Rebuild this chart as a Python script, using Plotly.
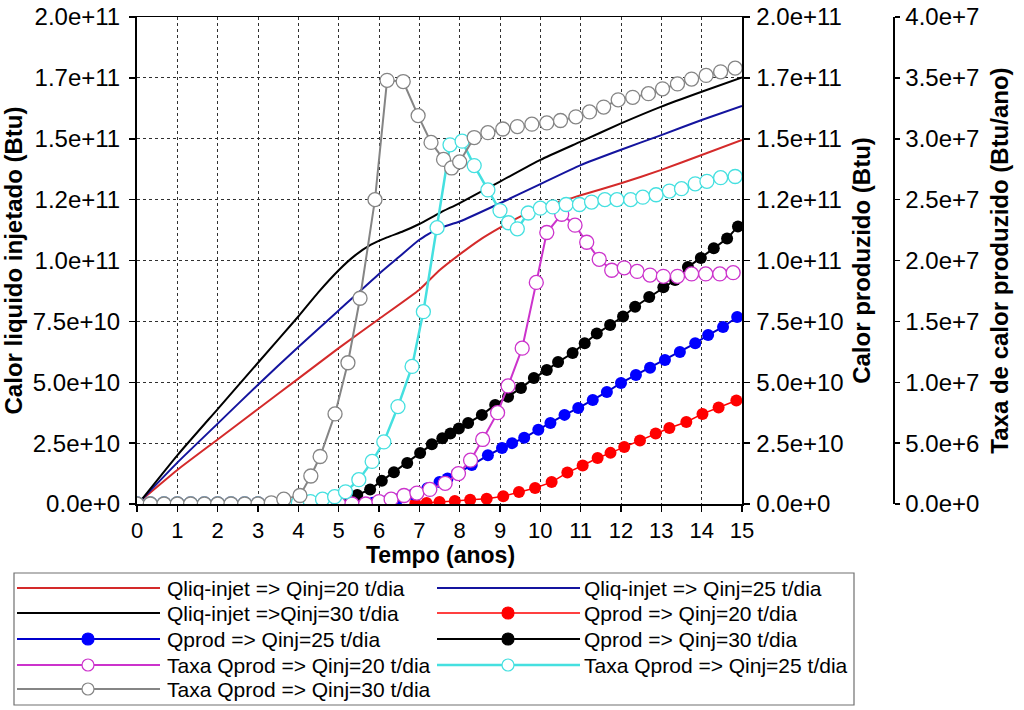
import plotly.graph_objects as go

# ---------------- data ----------------
# Calor liquido injetado (units of 1e10 Btu)
t_liq20 = [0.1, 1, 2, 3, 4, 5, 6, 7, 7.5, 8, 8.5, 9, 9.5, 10, 10.66, 11, 12, 13, 14, 15]
liq20 = [0.15, 1.4, 2.65, 3.9, 5.15, 6.4, 7.6, 8.8, 9.6, 10.25, 10.85, 11.35, 11.8, 12.2, 12.5, 12.68, 13.17, 13.72, 14.33, 14.95]
t_liq25 = [0.1, 1, 2, 3, 4, 5, 6, 6.5, 7, 7.45, 8, 9, 10, 11, 12, 13, 14, 15]
liq25 = [0.15, 1.7, 3.3, 4.9, 6.45, 7.95, 9.45, 10.15, 10.85, 11.3, 11.6, 12.35, 13.14, 13.92, 14.55, 15.15, 15.77, 16.35]
t_liq30 = [0.1, 1, 2, 3, 4, 4.5, 5, 5.4, 5.8, 6.2, 6.6, 7.0, 7.5, 8, 9, 10, 11, 12, 13, 14, 15]
liq30 = [0.15, 2.0, 3.9, 5.8, 7.7, 8.7, 9.6, 10.2, 10.65, 10.95, 11.2, 11.5, 11.95, 12.36, 13.24, 14.13, 14.88, 15.63, 16.32, 16.93, 17.52]

# Calor produzido (units of 1e10 Btu)
t_prod20 = [6.9, 7.18, 7.5, 7.88, 8.26, 8.67, 9.08, 9.47, 9.87, 10.28, 10.67, 11.05, 11.42, 11.74, 12.08,
            12.47, 12.86, 13.2, 13.62, 14.02, 14.42, 14.86]
prod20 = [0.02, 0.04, 0.08, 0.12, 0.17, 0.22, 0.32, 0.49, 0.66, 0.9, 1.29, 1.58, 1.89, 2.1, 2.34,
          2.61, 2.9, 3.12, 3.37, 3.7, 3.96, 4.25]
t_prod25 = [5.5, 5.85, 6.15, 6.47, 6.85, 7.2, 7.5, 7.7, 7.93, 8.3, 8.7, 9.05, 9.3, 9.6, 9.95, 10.25, 10.6,
            10.94, 11.3, 11.65, 12.0, 12.37, 12.72, 13.09, 13.46, 13.84, 14.16, 14.53, 14.88]
prod25 = [0.02, 0.05, 0.1, 0.2, 0.4, 0.65, 0.9, 1.05, 1.25, 1.6, 2.0, 2.3, 2.5, 2.72, 3.05, 3.33, 3.66,
          3.94, 4.27, 4.6, 4.97, 5.3, 5.6, 5.91, 6.24, 6.6, 6.94, 7.27, 7.68]
t_prod30 = [5.2, 5.46, 5.78, 6.07, 6.37, 6.7, 7.02, 7.31, 7.57, 7.77, 7.98, 8.21, 8.55, 8.88, 9.2, 9.52,
            9.84, 10.16, 10.44, 10.8, 11.1, 11.4, 11.73, 12.05, 12.35, 12.7, 13.05, 13.34, 13.66, 13.98,
            14.3, 14.63, 14.9]
prod30 = [0.1, 0.37, 0.6, 0.95, 1.3, 1.68, 2.09, 2.45, 2.7, 2.9, 3.1, 3.33, 3.66, 4.07, 4.4, 4.76,
          5.17, 5.5, 5.83, 6.2, 6.6, 7.0, 7.35, 7.7, 8.1, 8.5, 8.9, 9.2, 9.73, 10.1,
          10.5, 10.9, 11.4]

# Taxa de calor produzido (units of 1e7 Btu/ano)
t_taxa20 = [0, 0.33, 0.67, 1.0, 1.33, 1.67, 2.0, 2.33, 2.67, 3.0, 3.33, 3.67, 4.0, 4.33, 4.67, 5.0, 5.33,
            5.67, 6.0, 6.3, 6.62, 6.94, 7.26, 7.64, 7.97, 8.27, 8.57, 8.94, 9.2, 9.55, 9.9, 10.16, 10.53,
            10.86, 11.15, 11.46, 11.77, 12.08, 12.4, 12.72, 13.05, 13.4, 13.75, 14.1, 14.45, 14.78]
taxa20 = [0, 0, 0, 0, 0, 0, 0, 0, 0, 0, 0, 0, 0, 0, 0, 0, 0,
          0, 0.02, 0.04, 0.07, 0.09, 0.12, 0.17, 0.25, 0.36, 0.53, 0.75, 0.97, 1.28, 1.82, 2.23, 2.38,
          2.29, 2.15, 2.01, 1.92, 1.94, 1.91, 1.88, 1.87, 1.87, 1.89, 1.89, 1.89, 1.9]
t_taxa25 = [0, 0.33, 0.67, 1.0, 1.33, 1.67, 2.0, 2.33, 2.67, 3.0, 3.33, 3.67, 4.0, 4.3, 4.6, 4.9, 5.17,
            5.5, 5.83, 6.12, 6.47, 6.82, 7.1, 7.44, 7.76, 8.06, 8.36, 8.7, 9.0, 9.21, 9.43, 9.7, 10.0,
            10.31, 10.64, 10.97, 11.27, 11.6, 11.9, 12.24, 12.54, 12.87, 13.2, 13.5, 13.84, 14.13, 14.47, 14.83]
taxa25 = [0, 0, 0, 0, 0, 0, 0, 0, 0, 0, 0, 0, 0.01, 0.02, 0.04, 0.06, 0.1,
          0.2, 0.35, 0.51, 0.8, 1.13, 1.58, 2.27, 2.95, 2.98, 2.78, 2.58, 2.41, 2.31, 2.26, 2.39, 2.43,
          2.44, 2.46, 2.46, 2.48, 2.5, 2.5, 2.5, 2.52, 2.54, 2.57, 2.59, 2.63, 2.65, 2.68, 2.69]
t_taxa30 = [0, 0.33, 0.67, 1.0, 1.33, 1.67, 2.0, 2.33, 2.67, 3.0, 3.33, 3.64, 4.04, 4.31, 4.54, 4.91, 5.23,
            5.53, 5.9, 6.2, 6.6, 6.97, 7.29, 7.6, 7.8, 8.0, 8.36, 8.7, 9.07, 9.43, 9.79, 10.16, 10.5,
            10.88, 11.22, 11.57, 11.93, 12.29, 12.68, 13.03, 13.4, 13.75, 14.11, 14.47, 14.83]
taxa30 = [0, 0, 0, 0, 0, 0, 0, 0, 0, 0, 0.01, 0.04, 0.07, 0.23, 0.39, 0.74, 1.16,
          1.69, 2.5, 3.48, 3.47, 3.19, 2.97, 2.83, 2.76, 2.81, 3.01, 3.05, 3.08, 3.1, 3.12, 3.13, 3.15,
          3.18, 3.22, 3.26, 3.32, 3.34, 3.37, 3.41, 3.45, 3.49, 3.52, 3.55, 3.58]

x_ticks = list(range(0, 16))
y_tickvals = [0, 2.5e10, 5.0e10, 7.5e10, 1.0e11, 1.25e11, 1.5e11, 1.75e11, 2.0e11]
y_ticktext = ["0.0e+0", "2.5e+10", "5.0e+10", "7.5e+10", "1.0e+11", "1.2e+11", "1.5e+11", "1.7e+11", "2.0e+11"]
y3_tickvals = [0, 5e6, 1e7, 1.5e7, 2e7, 2.5e7, 3e7, 3.5e7, 4e7]
y3_ticktext = ["0.0e+0", "5.0e+6", "1.0e+7", "1.5e+7", "2.0e+7", "2.5e+7", "3.0e+7", "3.5e+7", "4.0e+7"]

names = ["Qliq-injet => Qinj=20 t/dia", "Qliq-injet => Qinj=25 t/dia", "Qliq-injet =>Qinj=30 t/dia",
         "Qprod => Qinj=20 t/dia", "Qprod => Qinj=25 t/dia", "Qprod => Qinj=30 t/dia",
         "Taxa Qprod => Qinj=20 t/dia", "Taxa Qprod => Qinj=25 t/dia", "Taxa Qprod => Qinj=30 t/dia"]

E10 = 1e10
E7 = 1e7

# ---------------- styles ----------------
FONT = "Liberation Sans, Arial, sans-serif"
C_RED_L = "#d42a2a"
C_BLUE_L = "#14149e"
C_BLACK = "#000000"
C_RED_M = "#ff0000"
C_BLUE_M = "#0000ff"
C_MAG = "#cc33cc"
C_CYAN = "#45e0e0"
C_GRAY = "#858585"

fig = go.Figure()

# Injected heat (left axis)
for t, v, name, col in [(t_liq20, liq20, names[0], C_RED_L),
                        (t_liq25, liq25, names[1], C_BLUE_L),
                        (t_liq30, liq30, names[2], C_BLACK)]:
    fig.add_trace(go.Scatter(x=t, y=[a * E10 for a in v], name=name, mode="lines",
                             line=dict(color=col, width=2, shape="spline", smoothing=0.5),
                             yaxis="y", showlegend=False))

# Produced heat (right axis 1)
for t, v, name, lc, mc, lw in [(t_prod20, prod20, names[3], C_RED_M, C_RED_M, 1.5),
                               (t_prod25, prod25, names[4], "#0000cc", C_BLUE_M, 2),
                               (t_prod30, prod30, names[5], C_BLACK, C_BLACK, 2)]:
    fig.add_trace(go.Scatter(x=t, y=[a * E10 for a in v], name=name, mode="lines+markers",
                             line=dict(color=lc, width=lw),
                             marker=dict(symbol="circle", size=12, color=mc, line=dict(width=0)),
                             yaxis="y2", showlegend=False))

# Produced heat rate (right axis 2)
for t, v, name, col, lw in [(t_taxa20, taxa20, names[6], C_MAG, 2),
                            (t_taxa25, taxa25, names[7], C_CYAN, 2.5),
                            (t_taxa30, taxa30, names[8], C_GRAY, 2)]:
    fig.add_trace(go.Scatter(x=t, y=[a * E7 for a in v], name=name, mode="lines+markers",
                             line=dict(color=col, width=lw),
                             marker=dict(symbol="circle", size=14, color="white",
                                         line=dict(color=col, width=1.3)),
                             yaxis="y3", showlegend=False))

# ---------------- layout ----------------
# page geometry (body margin removed by post_script, so figure px == page px)
PAGE_L, PAGE_T, PAGE_B, PAGE_XEND, PAGE_Y3 = 137, 17, 504, 742, 893
FW, FH = 1024, 710
L = PAGE_L
T = PAGE_T
B = FH - PAGE_B
R = FW - PAGE_Y3
PW = FW - L - R
PH = FH - T - B
x_end = (PAGE_XEND - PAGE_L) / PW

tickfont = dict(family=FONT, size=24, color="black")
xtickfont = dict(family=FONT, size=22, color="black")
titlefont = dict(family=FONT, size=24, color="black")

fig.update_layout(
    width=FW, height=FH,
    margin=dict(l=L, r=R, t=T, b=B, autoexpand=False),
    paper_bgcolor="white", plot_bgcolor="white",
    showlegend=False,
    font=dict(family=FONT, color="black"),
    xaxis=dict(domain=[0, x_end], range=[0, 15], tickvals=x_ticks, ticks="outside", ticklen=6,
               tickwidth=1.5, tickcolor="black", showline=True, linecolor="black", linewidth=1.5,
               mirror=True, showgrid=True, gridcolor="#303030", griddash="dot", gridwidth=1,
               zeroline=False, tickfont=xtickfont, ticklabelstandoff=0, ticklabeloverflow="allow"),
    yaxis=dict(range=[0, 2.0e11], tickvals=y_tickvals, ticktext=y_ticktext, ticks="outside",
               ticklen=6, tickwidth=1.5, tickcolor="black", showline=True, linecolor="black",
               linewidth=2, showgrid=True, gridcolor="#303030", griddash="dot", gridwidth=1,
               zeroline=False, tickfont=tickfont, ticklabelstandoff=4, ticklabeloverflow="allow",
               title=dict(text="<b>Calor liquido injetado (Btu)</b>", font=titlefont, standoff=5)),
    yaxis2=dict(range=[0, 2.0e11], tickvals=y_tickvals, ticktext=y_ticktext, overlaying="y",
                side="right", anchor="x", ticks="outside", ticklen=6, tickwidth=1.5,
                tickcolor="black", showline=True, linecolor="black", linewidth=1.5,
                showgrid=False, zeroline=False, tickfont=tickfont, ticklabelstandoff=2,
                ticklabeloverflow="allow",
                title=dict(text="<b>Calor produzido (Btu)</b>", font=titlefont, standoff=10)),
    yaxis3=dict(range=[0, 4.0e7], tickvals=y3_tickvals, ticktext=y3_ticktext, overlaying="y",
                side="right", anchor="free", position=1.0, ticks="outside", ticklen=5,
                tickwidth=1.5, tickcolor="black", showline=True, linecolor="black", linewidth=1.5,
                showgrid=False, zeroline=False, tickfont=tickfont, ticklabelstandoff=1,
                ticklabeloverflow="allow",
                title=dict(text="<b>Taxa de calor produzido (Btu/ano)</b>", font=titlefont, standoff=13)),
)


# ---------------- custom legend box & x title (paper coordinates from page px) ----------------
def px(xp):
    return (xp - PAGE_L) / PW


def py(yp):
    return (PAGE_B - yp) / PH


shapes = []
annotations = []
annotations.append(dict(xref="paper", yref="paper", x=px(440), y=py(555), xanchor="center", yanchor="middle",
                        text="<b>Tempo (anos)</b>", showarrow=False,
                        font=dict(family=FONT, size=23, color="black")))

shapes.append(dict(type="rect", xref="paper", yref="paper", x0=px(14), x1=px(854), y0=py(573), y1=py(705),
                   line=dict(color="#707070", width=1.2), fillcolor="white", layer="above"))

row_y = [588, 613, 639, 665, 689]
col_line = [(17, 160, 88, 165), (437, 580, 508, 582)]
legend_spec = [
    (names[0], C_RED_L, 2, None, None),
    (names[1], C_BLUE_L, 2, None, None),
    (names[2], C_BLACK, 2, None, None),
    (names[3], C_RED_M, 1.5, C_RED_M, C_RED_M),
    (names[4], "#0000cc", 2, C_BLUE_M, C_BLUE_M),
    (names[5], C_BLACK, 2, C_BLACK, C_BLACK),
    (names[6], C_MAG, 2, "white", C_MAG),
    (names[7], C_CYAN, 2.5, "white", C_CYAN),
    (names[8], C_GRAY, 2, "white", C_GRAY),
]
for i, (name, lc, lw, mfill, mline) in enumerate(legend_spec):
    r, c = divmod(i, 2)
    x0, x1, xm, xt = col_line[c]
    yy = py(row_y[r])
    shapes.append(dict(type="line", xref="paper", yref="paper", x0=px(x0), x1=px(x1), y0=yy, y1=yy,
                       line=dict(color=lc, width=lw), layer="above"))
    if mfill is not None:
        shapes.append(dict(type="circle", xref="paper", yref="paper", xsizemode="pixel",
                           ysizemode="pixel", xanchor=px(xm), yanchor=yy, x0=-6, x1=6, y0=-6, y1=6,
                           fillcolor=mfill, line=dict(color=mline, width=1.2), layer="above"))
    annotations.append(dict(xref="paper", yref="paper", x=px(xt), y=yy, xanchor="left", yanchor="middle",
                            text=name, showarrow=False, font=dict(family=FONT, size=21, color="black")))

fig.update_layout(shapes=shapes, annotations=annotations)

fig.write_html("out.html", config={"displayModeBar": False, "staticPlot": True},
               post_script="document.body.style.margin='0';document.body.style.overflow='hidden';")
